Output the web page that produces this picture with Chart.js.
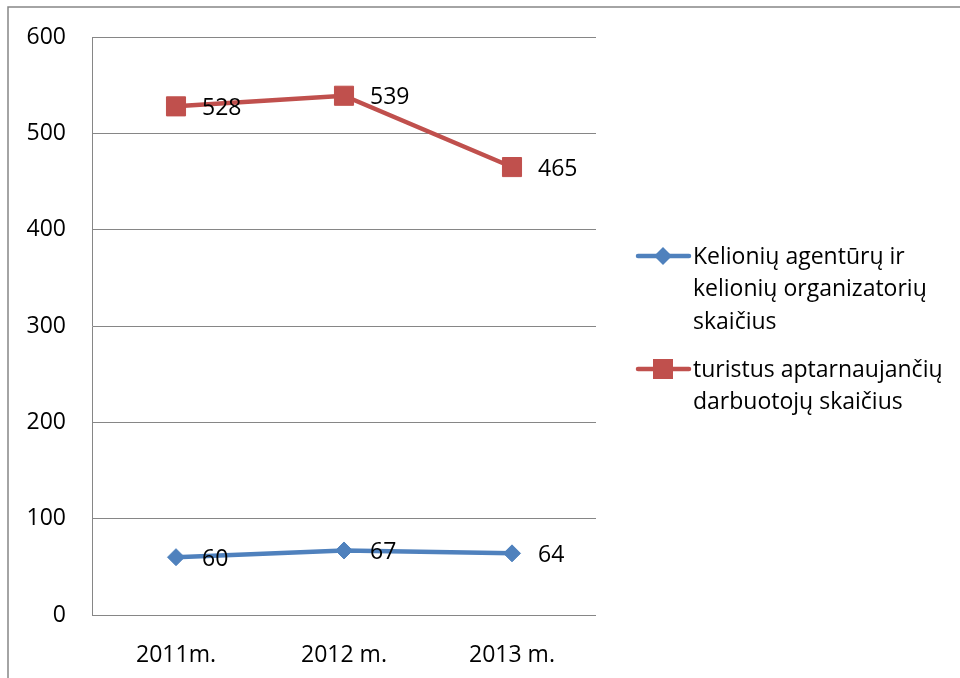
<!DOCTYPE html>
<html>
<head>
<meta charset="utf-8">
<script src="https://cdn.jsdelivr.net/npm/chart.js@4.4.0/dist/chart.umd.min.js"></script>
<style>
html,body{margin:0;padding:0;background:#fff;}
#wrap{position:relative;width:960px;height:678px;}
</style>
</head>
<body>
<div id="wrap"><canvas id="c" width="960" height="678"></canvas></div>
<script>
const categories = ["2011m.", "2012 m.", "2013 m."];
const agenturos = [60, 67, 64];
const darbuotojai = [528, 539, 465];
const seriesNames = ["Kelionių agentūrų ir kelionių organizatorių skaičius", "turistus aptarnaujančių darbuotojų skaičius"];
const legendLines = [["Kelionių agentūrų ir", "kelionių organizatorių", "skaičius"], ["turistus aptarnaujančių", "darbuotojų skaičius"]];
const yTicks = [0, 100, 200, 300, 400, 500, 600];

const FONT = "'Open Sans', sans-serif";
const FS = 23;
const BLUE = "#4F81BD";
const RED = "#C0504D";
const GRID = "#868686";

const framePlugin = {
  id: 'frame',
  beforeDraw(chart) {
    const ctx = chart.ctx;
    ctx.save();
    ctx.strokeStyle = GRID;
    ctx.lineWidth = 1.5;
    ctx.beginPath();
    ctx.moveTo(8, 700);
    ctx.lineTo(8, 7);
    ctx.lineTo(970, 7);
    ctx.stroke();
    ctx.restore();
  }
};

const labelPlugin = {
  id: 'pointLabels',
  afterDatasetsDraw(chart) {
    const ctx = chart.ctx;
    ctx.save();
    ctx.font = FS + "px " + FONT;
    ctx.fillStyle = "#000";
    ctx.textAlign = "left";
    ctx.textBaseline = "middle";
    chart.data.datasets.forEach((ds, i) => {
      const meta = chart.getDatasetMeta(i);
      meta.data.forEach((pt, j) => {
        ctx.fillText(String(ds.data[j]), pt.x + 26, pt.y + 2);
      });
    });
    ctx.restore();
  }
};

const legendPlugin = {
  id: 'customLegend',
  afterDraw(chart) {
    const ctx = chart.ctx;
    ctx.save();
    const starts = [256, 369];
    const lh = 32.5;
    chart.data.datasets.forEach((ds, i) => {
      const y = starts[i];
      ctx.strokeStyle = ds.borderColor;
      ctx.lineWidth = 4.5;
      ctx.lineCap = "round";
      ctx.beginPath();
      ctx.moveTo(638, y);
      ctx.lineTo(689, y);
      ctx.stroke();
      ctx.fillStyle = ds.borderColor;
      ctx.beginPath();
      if (i === 0) {
        ctx.moveTo(663, y - 9); ctx.lineTo(672, y); ctx.lineTo(663, y + 9); ctx.lineTo(654, y);
      } else {
        ctx.rect(653, y - 10, 20, 20);
      }
      ctx.fill();
      ctx.fillStyle = "#000";
      ctx.font = FS + "px " + FONT;
      ctx.textAlign = "left";
      ctx.textBaseline = "middle";
      legendLines[i].forEach((t, k) => ctx.fillText(t, 693, y + k * lh + 1));
    });
    ctx.restore();
  }
};

new Chart(document.getElementById('c'), {
  type: 'line',
  data: {
    labels: categories,
    datasets: [
      {
        label: seriesNames[0],
        data: agenturos,
        borderColor: BLUE,
        backgroundColor: BLUE,
        borderWidth: 4.5,
        pointStyle: 'rectRot',
        pointRadius: 8.5,
        pointBorderWidth: 1,
        pointHoverRadius: 8.5,
        tension: 0
      },
      {
        label: seriesNames[1],
        data: darbuotojai,
        borderColor: RED,
        backgroundColor: RED,
        borderWidth: 4.5,
        pointStyle: 'rect',
        pointRadius: 13.5,
        pointBorderWidth: 1,
        pointHoverRadius: 13.5,
        tension: 0
      }
    ]
  },
  options: {
    responsive: false,
    animation: false,
    events: [],
    layout: { padding: { left: 0, top: 37, right: 364, bottom: 0 } },
    plugins: { legend: { display: false }, tooltip: { enabled: false } },
    scales: {
      x: {
        offset: true,
        grid: { display: false, drawTicks: false },
        border: { display: false },
        ticks: { color: "#000", font: { family: FONT, size: FS }, padding: 27, maxRotation: 0 },
        afterFit(s) { s.height = 63; s.paddingLeft = 0; s.paddingRight = 0; }
      },
      y: {
        min: 0, max: 600,
        afterBuildTicks(s) { s.ticks = yTicks.map(v => ({ value: v })); },
        grid: { color: GRID, lineWidth: 1, drawTicks: false },
        border: { display: true, color: GRID, width: 1 },
        ticks: { color: "#000", font: { family: FONT, size: FS }, padding: 26 },
        afterFit(s) { s.width = 92; s.paddingTop = 0; s.paddingBottom = 0; }
      }
    }
  },
  plugins: [framePlugin, labelPlugin, legendPlugin]
});
</script>
</body>
</html>
